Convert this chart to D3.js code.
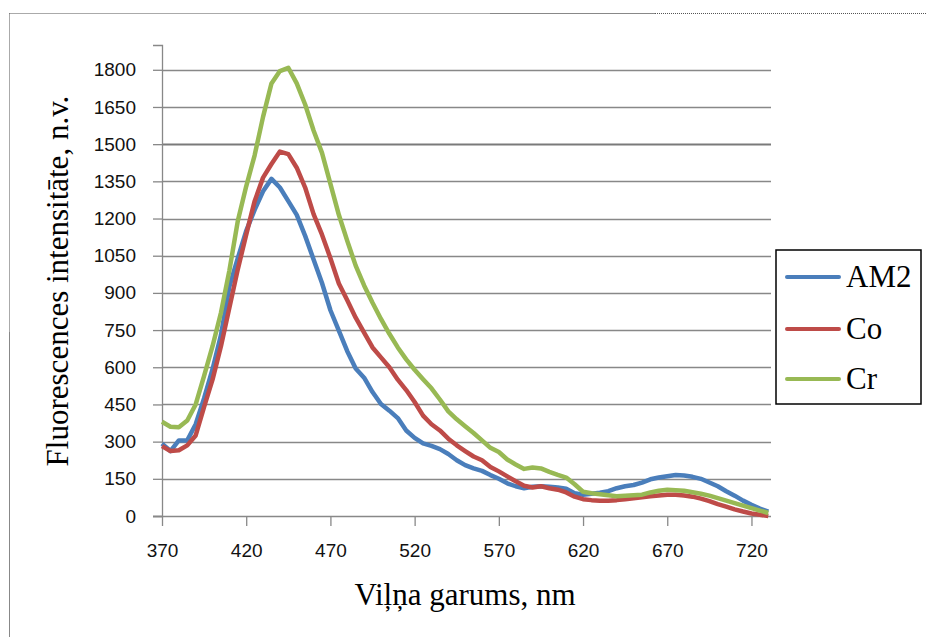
<!DOCTYPE html>
<html>
<head>
<meta charset="utf-8">
<script src="https://cdn.jsdelivr.net/npm/d3@7"></script>
<style>
  body { margin: 0; background: #fff; }
  svg { display: block; }
</style>
</head>
<body>
<div id="chart"></div>
<script>
// wavelength grid, nm
var wavelengths = d3.range(370, 731, 5);

// values, one per wavelength
var am2 = [292, 262, 305, 305, 370, 475, 592, 730, 925, 1040, 1150, 1235, 1310, 1360, 1325, 1270,
  1215, 1130, 1035, 940, 830, 748, 665, 595, 558, 500, 452, 425, 395, 345, 315, 293, 283, 270,
  250, 225, 205, 192, 182, 165, 150, 132, 120, 112, 118, 120, 118, 115, 110, 92, 86, 90, 94, 100,
  112, 120, 125, 135, 148, 155, 160, 165, 163, 158, 150, 135, 120, 100, 82, 62, 45, 30, 18];
var co = [282, 262, 265, 285, 325, 440, 550, 685, 840, 995, 1135, 1270, 1365, 1420, 1470, 1460,
  1405, 1325, 1218, 1135, 1040, 938, 870, 800, 740, 680, 640, 600, 550, 508, 460, 405, 370, 345,
  312, 285, 262, 240, 225, 198, 180, 160, 140, 122, 115, 120, 112, 106, 95, 78, 68, 64, 62, 62,
  64, 68, 72, 76, 80, 83, 86, 86, 83, 78, 70, 60, 48, 38, 27, 18, 10, 5, 0];
var cr = [380, 360, 358, 385, 450, 565, 685, 820, 990, 1190, 1330, 1455, 1610, 1745, 1795, 1808,
  1745, 1660, 1555, 1465, 1340, 1215, 1110, 1010, 930, 860, 795, 735, 680, 632, 590, 552, 515,
  470, 422, 390, 362, 335, 305, 275, 258, 228, 208, 190, 196, 192, 178, 166, 155, 128, 98, 92,
  88, 84, 80, 82, 84, 86, 95, 102, 106, 104, 102, 96, 90, 82, 72, 62, 52, 42, 32, 22, 12];

var seriesNames = ["AM2", "Co", "Cr"];
var seriesColors = ["#4a7ebb", "#be4b48", "#98b954"];
var seriesValues = [am2, co, cr];

var xTicks = [370, 420, 470, 520, 570, 620, 670, 720];
var yTicks = d3.range(0, 1801, 150);

var width = 926, height = 637;

var svg = d3.select("#chart").append("svg")
  .attr("width", width)
  .attr("height", height);

// outer frame (dotted, partly solid as in the picture)
var frame = svg.append("g");
frame.append("line").attr("x1", 9.5).attr("x2", 490).attr("y1", 13.5).attr("y2", 13.5)
  .attr("stroke", "#555").attr("stroke-dasharray", "1,1");
frame.append("line").attr("x1", 490).attr("x2", 655).attr("y1", 13.5).attr("y2", 13.5)
  .attr("stroke", "#888");
frame.append("line").attr("x1", 655).attr("x2", 926).attr("y1", 13.5).attr("y2", 13.5)
  .attr("stroke", "#555").attr("stroke-dasharray", "1,1");
frame.append("line").attr("x1", 9.5).attr("x2", 9.5).attr("y1", 13.5).attr("y2", 332)
  .attr("stroke", "#555").attr("stroke-dasharray", "1,1");
frame.append("line").attr("x1", 9.5).attr("x2", 9.5).attr("y1", 332).attr("y2", 637)
  .attr("stroke", "#888");

var x = d3.scaleLinear().domain([370, 731.6]).range([162, 771]);
var y = d3.scaleLinear().domain([0, 1900]).range([516, 45]);

// grid lines
svg.append("g").selectAll("line")
  .data(yTicks.filter(function(d) { return d > 0; }))
  .enter().append("line")
  .attr("x1", 162).attr("x2", 771)
  .attr("y1", function(d) { return Math.round(y(d)) + 0.5; })
  .attr("y2", function(d) { return Math.round(y(d)) + 0.5; })
  .attr("stroke", function(d) { return d == 1500 ? "#7a7a7a" : "#888"; })
  .attr("stroke-width", function(d) { return d == 1500 ? 2.2 : 1.3; });

// y axis
var yAxis = d3.axisLeft(y).tickValues(yTicks).tickSize(9).tickPadding(17)
  .tickFormat(d3.format("d"));
var gy = svg.append("g").attr("transform", "translate(162,0)").call(yAxis);
gy.select(".domain").attr("stroke", "#888").attr("stroke-width", 1.3);
gy.selectAll(".tick line").attr("stroke", "#888").attr("stroke-width", 1.3);
gy.selectAll(".tick text").attr("font-family", "'Liberation Sans', Arial, sans-serif")
  .attr("font-size", 19).attr("fill", "#111");

// x axis
var xAxis = d3.axisBottom(x).tickValues(xTicks).tickSize(10).tickPadding(18)
  .tickFormat(d3.format("d"));
var gx = svg.append("g").attr("transform", "translate(0,516)").call(xAxis);
gx.select(".domain").attr("d", "M153,0.5H771").attr("stroke", "#888").attr("stroke-width", 1.3);
gx.selectAll(".tick line").attr("stroke", "#888").attr("stroke-width", 1.3);
gx.selectAll(".tick text").attr("font-family", "'Liberation Sans', Arial, sans-serif")
  .attr("font-size", 19).attr("fill", "#111");

// curves
var line = d3.line()
  .x(function(d) { return x(d[0]); })
  .y(function(d) { return y(d[1]); });

seriesValues.forEach(function(vals, k) {
  var pts = wavelengths.map(function(w, i) { return [w, vals[i]]; });
  svg.append("path")
    .datum(pts)
    .attr("d", line)
    .attr("fill", "none")
    .attr("stroke", seriesColors[k])
    .attr("stroke-width", 4.5)
    .attr("stroke-linejoin", "round");
});

// axis titles
svg.append("text")
  .attr("x", 465).attr("y", 605)
  .attr("text-anchor", "middle")
  .attr("font-family", "'Liberation Serif', 'Times New Roman', serif")
  .attr("font-size", 31)
  .text("Viļņa garums, nm");

svg.append("text")
  .attr("transform", "translate(68,281) rotate(-90)")
  .attr("text-anchor", "middle")
  .attr("font-family", "'Liberation Serif', 'Times New Roman', serif")
  .attr("font-size", 31)
  .text("Fluorescences intensitāte, n.v.");

// legend
var legend = svg.append("g");
legend.append("rect")
  .attr("x", 776).attr("y", 250).attr("width", 145).attr("height", 154)
  .attr("fill", "#fff").attr("stroke", "#000").attr("stroke-width", 1.5);
var legendY = [277, 329, 379];
seriesNames.forEach(function(name, k) {
  legend.append("line")
    .attr("x1", 787).attr("x2", 839)
    .attr("y1", legendY[k]).attr("y2", legendY[k])
    .attr("stroke", seriesColors[k]).attr("stroke-width", 4)
    .attr("stroke-linecap", "round");
  legend.append("text")
    .attr("x", 846).attr("y", legendY[k] + 10)
    .attr("font-family", "'Liberation Serif', 'Times New Roman', serif")
    .attr("font-size", 31)
    .text(name);
});
</script>
</body>
</html>
